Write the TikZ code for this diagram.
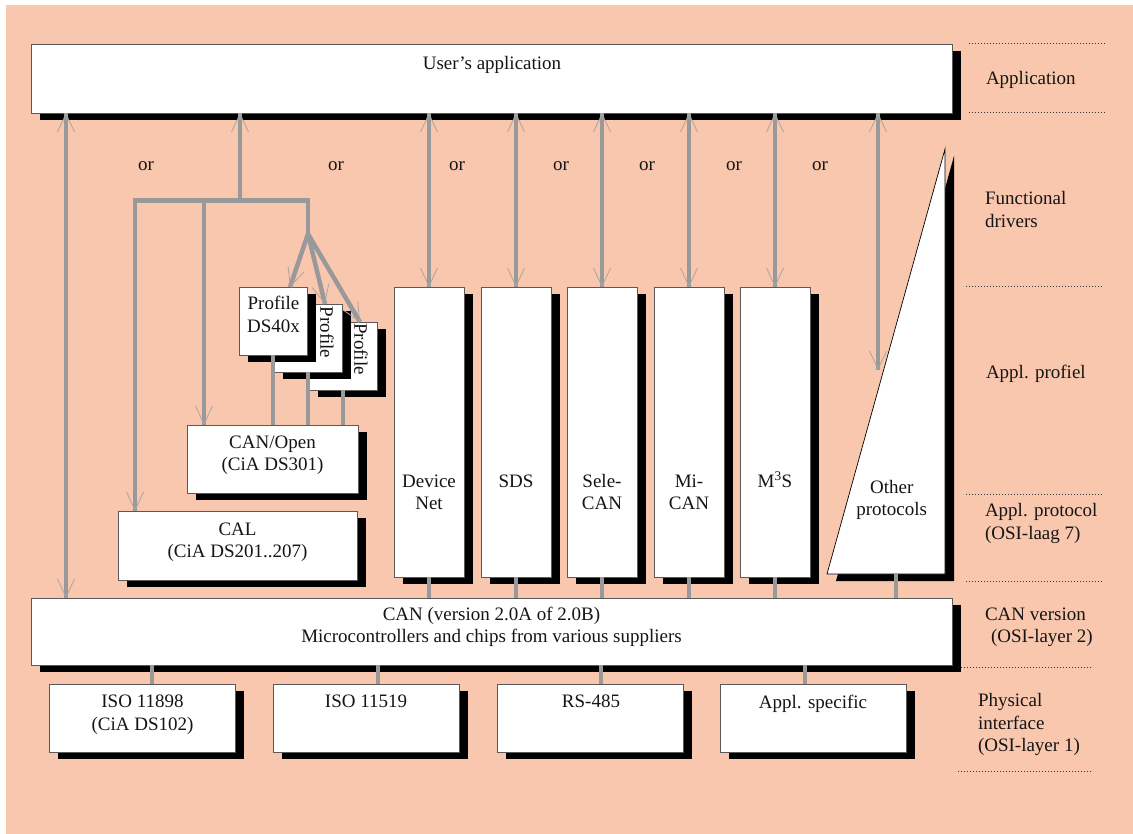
\documentclass[tikz,border=0pt]{standalone}
\usepackage{fontspec}
\setmainfont{Liberation Serif}
\usetikzlibrary{arrows.meta,shadows,calc}
\definecolor{salmon}{HTML}{F9C6AE}
\definecolor{lgrey}{HTML}{999999}
\definecolor{tipc}{HTML}{A6A6A6}
\definecolor{boxborder}{HTML}{5A5A5A}
\definecolor{txtc}{HTML}{151515}
\begin{document}
\begin{tikzpicture}[x=1pt,y=-1pt,
  font=\fontsize{19pt}{22.5pt}\selectfont,
  box/.style={draw=boxborder, line width=0.8pt, fill=white, inner sep=0pt, outer sep=0pt,
    anchor=north west, drop shadow={shadow xshift=9pt, shadow yshift=-7pt, opacity=1, fill=black}},
  txt/.style={inner sep=0pt, outer sep=0pt, align=center, text=txtc, anchor=base},
  lab/.style={inner sep=0pt, outer sep=0pt, align=left, text=txtc, anchor=base west},
  gline/.style={draw=lgrey, line width=4.5pt},
  tipE/.style={gline, postaction={draw=lgrey, line width=0.8pt, -{Straight Barb[length=18pt,width=17pt,color=tipc]}}},
  tipB/.style={gline, postaction={draw=lgrey, line width=0.8pt, {Straight Barb[length=18pt,width=17pt,color=tipc]}-{Straight Barb[length=18pt,width=17pt,color=tipc]}}},
  dots/.style={draw=black!80, line width=1pt, dash pattern=on 1pt off 2pt}
]
\useasboundingbox (0,0) rectangle (1133,834);
\fill[white] (0,0) rectangle (1133,834);
\fill[salmon] (6,5) rectangle (1133,834);

% boxes
\node[box,minimum width=921pt,minimum height=69pt] (app) at (31,44) {};
\node[box,minimum width=921pt,minimum height=67pt] (can) at (31,598) {};
\node[box,minimum width=186pt,minimum height=68pt] (iso1) at (49,684) {};
\node[box,minimum width=186pt,minimum height=68pt] (iso2) at (273,684) {};
\node[box,minimum width=186pt,minimum height=68pt] (rs) at (497,684) {};
\node[box,minimum width=186pt,minimum height=68pt] (aps) at (720,684) {};
\node[box,minimum width=70pt,minimum height=290pt] (dn) at (394,287) {};
\node[box,minimum width=70pt,minimum height=290pt] (sds) at (481,287) {};
\node[box,minimum width=70pt,minimum height=290pt] (sele) at (567,287) {};
\node[box,minimum width=70pt,minimum height=290pt] (mi) at (654,287) {};
\node[box,minimum width=70pt,minimum height=290pt] (mts) at (740,287) {};
\node[box,minimum width=171pt,minimum height=68pt] (canopen) at (187,425) {};
\node[box,minimum width=239pt,minimum height=69pt] (cal) at (118,511) {};
\node[box,minimum width=68pt,minimum height=68pt] (p3) at (309,322) {};
\node[box,minimum width=68pt,minimum height=68pt] (p2) at (274,304) {};
\node[box,minimum width=68pt,minimum height=68pt] (p1) at (239,287) {};
\path[draw=black, line width=0.7pt, fill=white,
  drop shadow={shadow xshift=9pt, shadow yshift=-7pt, opacity=1, fill=black}]
  (945,149) -- (945,574) -- (827,574) -- cycle;
\coordinate (opb) at (896,574);
\coordinate (opt) at (878,370);

% texts (anchor base = baseline of the last line)
\node[txt] at (492,70) {User’s application};
\node[txt] at (491.5,642.5) {CAN (version 2.0A of 2.0B)\\Microcontrollers and chips from various suppliers};
\node[txt] at (142.5,730.2) {ISO 11898\\(CiA DS102)};
\node[txt] at (366,707.7) {ISO 11519};
\node[txt] at (591,707.7) {RS-485};
\node[txt] at (813,708) {Appl. specific};
\node[txt] at (273.5,332.5) {Profile\\DS40x};
\node[inner sep=0pt, text=txtc, rotate=-90] at (327,332.5) {Profile};
\node[inner sep=0pt, text=txtc, rotate=-90] at (361,349) {Profile};
\node[txt] at (272.5,470.8) {CAN/Open\\(CiA DS301)};
\node[txt] at (237.5,557.5) {CAL\\(CiA DS201..207)};
\node[txt] at (429,509.5) {Device\\Net};
\node[txt] at (516,487) {SDS};
\node[txt] at (602,509.5) {Sele-\\CAN};
\node[txt] at (689,509.5) {Mi-\\CAN};
\node[txt] at (775,487) {M\textsuperscript{3}S};
\node[txt] at (891.7,515.5) {Other\\protocols};
\foreach \x in {146,336,457,561,647,734,820}
  \node[txt] at (\x,170.7) {or};

% right labels
\node[lab] at (986,85) {Application};
\node[lab] at (985,227.5) {Functional\\drivers};
\node[lab] at (986,378) {Appl. profiel};
\node[lab] at (985,539.2) {Appl. protocol\\(OSI-laag 7)};
\node[lab] at (985,642.5) {CAN version\\\hspace*{6pt}(OSI-layer 2)};
\node[lab] at (978,751.7) {Physical\\interface\\(OSI-layer 1)};
\draw[dots] (969,44) -- (1106,44);
\draw[dots] (969,113) -- (1106,113);
\draw[dots] (966,287) -- (1103,287);
\draw[dots] (966,494) -- (1102,494);
\draw[dots] (966,581) -- (1102,581);
\draw[dots] (958,667) -- (1093,667);
\draw[dots] (958,771) -- (1093,771);

% connectors
\coordinate (lx) at (66,0);
\coordinate (barL) at (135,200.5);
\coordinate (barM) at (204,200.5);
\coordinate (barU) at (240,200.5);
\coordinate (barR) at (308,200.5);
\coordinate (fork) at (308,234);
\draw[tipB] (lx |- app.south) -- (lx |- can.north);
\draw[tipE] (barU) -- (barU |- app.south);
\draw[tipE] (fork) -- (barR) -- (barL) -- (barL |- cal.north);
\draw[tipE] (barM) -- (barM |- canopen.north);
\draw[tipE] (fork) -- ($(p1.north)+(17,0)$);
\draw[tipE] (fork) -- ($(p2.north)+(17,0)$);
\draw[tipE] (fork) -- ($(p3.north)+(17,0)$);
\foreach \b in {dn,sds,sele,mi,mts}{
  \draw[tipB] (\b.north |- app.south) -- (\b.north);
  \draw[gline] (\b.south) -- (\b.south |- can.north);
}
\draw[tipB] (opt |- app.south) -- (opt);
\draw[gline] (opb) -- (opb |- can.north);
\foreach \p in {p1,p2,p3}
  \draw[gline] (\p.south) -- (\p.south |- canopen.north);
\coordinate (c1) at (152,0);
\coordinate (c2) at (378,0);
\coordinate (c3) at (601,0);
\coordinate (c4) at (805,0);
\draw[gline] (c1 |- can.south) -- (c1 |- iso1.north);
\draw[gline] (c2 |- can.south) -- (c2 |- iso2.north);
\draw[gline] (c3 |- can.south) -- (c3 |- rs.north);
\draw[gline] (c4 |- can.south) -- (c4 |- aps.north);
\end{tikzpicture}
\end{document}
